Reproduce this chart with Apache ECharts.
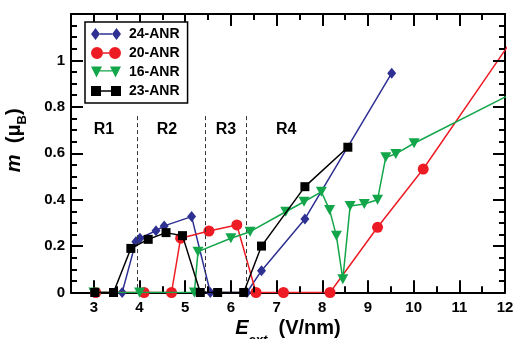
<!DOCTYPE html>
<html>
<head>
<meta charset="utf-8">
<script src="https://cdn.jsdelivr.net/npm/echarts@6/dist/echarts.min.js"></script>
<style>
html,body{margin:0;padding:0;background:#fff;}
#chart{width:517px;height:339px;}
</style>
</head>
<body>
<div id="chart"></div>
<script>
// ---- data ----
const seriesNames = ['24-ANR', '20-ANR', '16-ANR', '23-ANR'];
const x24 = [3.62, 3.92, 4.01, 4.36, 4.54, 5.14, 5.55, 6.35, 6.67, 7.62, 9.52];
const y24 = [0, 0.219, 0.234, 0.266, 0.287, 0.327, 0, 0, 0.094, 0.317, 0.945];
const x20 = [3.04, 4.10, 4.70, 4.90, 5.52, 6.13, 6.55, 7.15, 8.17, 9.21, 10.21, 12.30];
const y20 = [0, 0, 0, 0.234, 0.265, 0.291, 0, 0, 0, 0.281, 0.532, 1.13];
const x16 = [3.00, 4.00, 5.20, 5.28, 6.00, 6.42, 7.20, 7.60, 7.98, 8.16, 8.31, 8.45, 8.61, 8.92, 9.21, 9.39, 9.61, 10.01, 12.02];
const y16 = [0, 0, 0, 0.176, 0.234, 0.262, 0.348, 0.391, 0.434, 0.356, 0.244, 0.057, 0.373, 0.381, 0.400, 0.583, 0.597, 0.643, 0.844];
const x23 = [3.02, 3.43, 3.81, 4.19, 4.58, 4.94, 5.33, 5.71, 6.28, 6.67, 7.62, 8.56];
const y23 = [0, 0, 0.190, 0.229, 0.258, 0.245, 0, 0, 0, 0.200, 0.456, 0.626];
const xRange = [2.5, 12];
const xTickLabels = [3, 4, 5, 6, 7, 8, 9, 10, 11, 12];
const xTickStep = 1;
const xMinorPerMajor = 2;
const yRange = [0, 1.2];
const yTickLabels = [0, 0.2, 0.4, 0.6, 0.8, 1];
const yTickStep = 0.2;
const yMinorPerMajor = 4;
const regionBounds = [3.94, 5.43, 6.33];
const regionTop = 0.76;
const regionLabels = ['R1', 'R2', 'R3', 'R4'];
const regionLabelX = [3.22, 4.60, 5.89, 7.21];
const regionLabelY = 0.703;

// ---- layout ----
const W = 517, H = 339;
const G = { left: 71, right: 12, top: 14, bottom: 46.5 };
const pxPerX = (W - G.left - G.right) / (xRange[1] - xRange[0]);
const pxPerY = (H - G.top - G.bottom) / (yRange[1] - yRange[0]);
const tickGridLeft = G.left + (xTickLabels[0] - xRange[0]) * pxPerX;
const MAJ = 12, MIN = 6;

const zip = (xs, ys) => xs.map((x, i) => [x, ys[i]]);
const colors = ['#2E3192', '#ED1C24', '#13A54A', '#000000'];
const symbols = ['diamond', 'circle', 'triangle', 'rect'];
const symbolSizes = [[9, 11], 11, [11, 10], 9];
const symbolRot = [0, 0, 180, 0];
const legendIcons = [
  'path://M0,6L4.5,0L9,6L4.5,12ZM21,6L25.5,0L30,6L25.5,12ZM9,5.3L21,5.3L21,6.7L9,6.7Z',
  'path://M0,6A6,6 0 1,1 12,6A6,6 0 1,1 0,6ZM18,6A6,6 0 1,1 30,6A6,6 0 1,1 18,6ZM12,5.3L18,5.3L18,6.7L12,6.7Z',
  'path://M0,0L11,0L5.5,11ZM19,0L30,0L24.5,11ZM8,3.7L22,3.7L22,5.1L8,5.1Z',
  'path://M0,0L10,0L10,10L0,10ZM20,0L30,0L30,10L20,10ZM10,4.3L20,4.3L20,5.7L10,5.7Z'
];
const dataSets = [zip(x24, y24), zip(x20, y20), zip(x16, y16), zip(x23, y23)];

const xTickData = [];
for (let v = xRange[0]; v <= xRange[1] + 1e-9; v += xTickStep / xMinorPerMajor) {
  const r = Math.round(v * 1000) / 1000;
  if (r <= xRange[0] + 1e-9) continue;
  xTickData.push([r, xTickLabels.includes(r) ? 1 : 0]);
}
const yTickData = [];
for (let v = yRange[0]; v <= yRange[1] + 1e-9; v += yTickStep / yMinorPerMajor) {
  const r = Math.round(v * 1000) / 1000;
  if (r <= yRange[0] + 1e-9 || r >= yRange[1] - 1e-9) continue;
  const isMaj = Math.abs(r / yTickStep - Math.round(r / yTickStep)) < 1e-6;
  yTickData.push([r, isMaj ? 1 : 0]);
}

const FONT = 'Liberation Sans, Arial, sans-serif';
const tickLine = { color: '#000', width: 2 };

const xAxes = [
  {
    type: 'value', gridIndex: 0, min: xRange[0], max: xRange[1], position: 'bottom',
    axisLine: { show: true, onZero: false, lineStyle: { color: '#000', width: 2 } },
    axisTick: { show: false }, axisLabel: { show: false }, splitLine: { show: false },
    name: '{i|E}{s|ext}{n|  (V/nm)}', nameLocation: 'middle', nameGap: 18,
    nameTextStyle: { rich: {
      i: { fontStyle: 'italic', fontWeight: 'bold', fontSize: 20, fontFamily: FONT, color: '#000', lineHeight: 36 },
      s: { fontStyle: 'italic', fontWeight: 'bold', fontSize: 13, fontFamily: FONT, color: '#000', verticalAlign: 'bottom', lineHeight: 14 },
      n: { fontWeight: 'bold', fontSize: 20, fontFamily: FONT, color: '#000', lineHeight: 36 }
    } }
  },
  {
    type: 'value', gridIndex: 0, min: xRange[0], max: xRange[1], position: 'top',
    axisLine: { show: true, onZero: false, lineStyle: { color: '#000', width: 2 } },
    axisTick: { show: false }, axisLabel: { show: false }, splitLine: { show: false }
  },
  {
    type: 'value', gridIndex: 1, min: xTickLabels[0], max: xRange[1], interval: xTickStep, position: 'bottom',
    axisLine: { show: false, onZero: false },
    axisTick: { show: true, inside: true, length: MAJ, lineStyle: tickLine },
    minorTick: { show: true, splitNumber: xMinorPerMajor, length: MIN, lineStyle: tickLine },
    axisLabel: { show: true, color: '#000', fontSize: 15, fontWeight: 'bold', fontFamily: FONT, margin: 8 },
    splitLine: { show: false }, minorSplitLine: { show: false }
  }
];

const yAxes = [
  {
    type: 'value', gridIndex: 0, min: yRange[0], max: yRange[1], interval: yTickStep, position: 'left',
    axisLine: { show: true, onZero: false, lineStyle: { color: '#000', width: 2 } },
    axisTick: { show: true, inside: true, length: MAJ, lineStyle: tickLine },
    minorTick: { show: true, splitNumber: yMinorPerMajor, length: MIN, lineStyle: tickLine },
    axisLabel: { show: true, color: '#000', fontSize: 15, fontWeight: 'bold', fontFamily: FONT, margin: 6,
      formatter: v => { const r = Math.round(v * 10) / 10; return yTickLabels.includes(r) ? String(r) : ''; } },
    splitLine: { show: false }, minorSplitLine: { show: false },
    name: '{i|m}{n|  (μ}{s|B}{n|)}', nameLocation: 'middle', nameGap: 42,
    nameTextStyle: { padding: [0, 0, 0, 26], rich: {
      i: { fontStyle: 'italic', fontWeight: 'bold', fontSize: 20, fontFamily: FONT, color: '#000', lineHeight: 30 },
      s: { fontWeight: 'bold', fontSize: 13, fontFamily: FONT, color: '#000', verticalAlign: 'bottom', lineHeight: 12 },
      n: { fontWeight: 'bold', fontSize: 20, fontFamily: FONT, color: '#000', lineHeight: 30 }
    } }
  },
  {
    type: 'value', gridIndex: 0, min: yRange[0], max: yRange[1], interval: yTickStep, position: 'right',
    axisLine: { show: true, onZero: false, lineStyle: { color: '#000', width: 2 } },
    axisTick: { show: true, inside: true, length: MAJ, lineStyle: tickLine },
    minorTick: { show: true, splitNumber: yMinorPerMajor, length: MIN, lineStyle: tickLine },
    axisLabel: { show: false }, splitLine: { show: false }, minorSplitLine: { show: false }
  },
  { type: 'value', gridIndex: 1, min: yRange[0], max: yRange[1], show: false, splitLine: { show: false } }
];

const series = dataSets.map((d, i) => ({
  name: seriesNames[i], type: 'line', data: d,
  xAxisIndex: 0, yAxisIndex: 0,
  symbol: symbols[i], symbolSize: symbolSizes[i], symbolRotate: symbolRot[i],
  color: colors[i],
  itemStyle: { color: colors[i], opacity: 1 },
  lineStyle: { color: colors[i], width: 1.5 },
  clip: true, animation: false, z: 3 + i
}));

// dashed region dividers + inside frame ticks (tick lengths converted from px to data units via the axis scale)
const solidTick = { type: 'solid', color: '#000', width: 2 };
const tickSegments = [];
xTickData.forEach(([v, maj]) => {
  const dy = (maj ? MAJ : MIN) / pxPerY;
  tickSegments.push([{ coord: [v, yRange[0]], lineStyle: solidTick }, { coord: [v, yRange[0] + dy] }]);
  tickSegments.push([{ coord: [v, yRange[1]], lineStyle: solidTick }, { coord: [v, yRange[1] - dy] }]);
});
yTickData.forEach(([v, maj]) => {
  const dx = (maj ? MAJ : MIN) / pxPerX;
  tickSegments.push([{ coord: [xRange[0], v], lineStyle: solidTick }, { coord: [xRange[0] + dx, v] }]);
  tickSegments.push([{ coord: [xRange[1], v], lineStyle: solidTick }, { coord: [xRange[1] - dx, v] }]);
});
series[0].markLine = {
  silent: true, symbol: 'none', animation: false,
  lineStyle: { color: '#333', width: 1, type: [4, 3] },
  label: { show: false },
  data: regionBounds.map(x => [{ coord: [x, regionTop] }, { coord: [x, 0] }]).concat(tickSegments)
};
series.push({
  type: 'scatter', name: 'regions', xAxisIndex: 0, yAxisIndex: 0, silent: true, animation: false,
  symbolSize: 1, itemStyle: { color: 'rgba(255,255,255,0)', opacity: 1 },
  data: regionLabels.map((t, i) => [regionLabelX[i], regionLabelY, t]),
  label: { show: true, position: 'inside', formatter: p => p.data[2], color: '#000', opacity: 1,
    textBorderWidth: 0, fontSize: 16, fontWeight: 'bold', fontFamily: FONT }
});

const chart = echarts.init(document.getElementById('chart'), null, { renderer: 'canvas' });
chart.setOption({
  animation: false,
  backgroundColor: '#fff',
  grid: [
    { left: G.left, right: G.right, top: G.top, bottom: G.bottom, containLabel: false, outerBoundsMode: 'none' },
    { left: tickGridLeft, right: G.right, top: G.top, bottom: G.bottom, containLabel: false, outerBoundsMode: 'none' }
  ],
  xAxis: xAxes,
  yAxis: yAxes,
  legend: {
    orient: 'vertical', left: 85, top: 22, z: 20,
    itemWidth: 30, itemHeight: 12, itemGap: 5,
    padding: [5, 8, 5, 6],
    borderColor: '#000', borderWidth: 1.5,
    backgroundColor: '#fff',
    selectedMode: false,
    textStyle: { color: '#000', fontSize: 14, fontWeight: 'bold', fontFamily: FONT, padding: [0, 0, 0, 3] },
    data: seriesNames.map((n, i) => ({ name: n, icon: legendIcons[i], itemStyle: { color: colors[i] } }))
  },
  series: series
});
</script>
</body>
</html>
